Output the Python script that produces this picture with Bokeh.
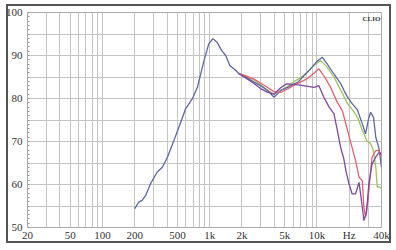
from bokeh.plotting import figure
from bokeh.models import FixedTicker, Label, InlineStyleSheet
from bokeh.embed import file_html
from bokeh.resources import INLINE

# ---- data ----
freq_0 = [200, 218, 234, 252, 281, 324, 362, 404, 463, 516, 596, 688, 768, 885, 980, 1070, 1170,
          1290, 1410, 1540, 1700, 1870, 2160, 2590, 2980, 3440, 3980, 4290, 4600, 5330, 6660, 7840,
          9000, 10000, 11200, 12400, 14400, 16700, 17850, 19300, 21300, 23800, 26500, 28400, 30500,
          31700, 33700, 35400, 38000, 40000]
spl_0 = [54.4, 55.9, 56.3, 57.4, 60.2, 62.9, 64.0, 66.4, 70.2, 73.3, 77.6, 79.9, 82.6, 88.8, 92.7,
         93.9, 93.1, 91.2, 90.0, 87.7, 86.8, 85.8, 85.0, 83.8, 83.0, 81.9, 80.3, 81.1, 81.9, 82.6,
         83.8, 85.7, 87.3, 88.6, 89.6, 88.1, 85.7, 83.4, 81.9, 80.3, 78.8, 77.4, 74.1, 71.8, 75.6,
         76.8, 75.6, 71.0, 68.3, 64.0]

freq_1 = [1870, 2160, 2590, 2980, 3440, 3980, 4600, 5330, 6000, 7000, 8000, 9000, 10000, 10850,
          12400, 14400, 16700, 19300, 22000, 24000, 26500, 29200, 31700, 33500, 35400, 36500,
          38000, 40000]
spl_1 = [85.8, 85.2, 84.3, 83.2, 82.0, 81.0, 81.8, 82.8, 83.8, 84.8, 85.9, 87.2, 88.3, 88.8,
         87.3, 85.0, 81.9, 78.8, 77.0, 75.5, 72.6, 70.2, 69.5, 68.0, 64.0, 59.4, 59.5, 59.0]

freq_2 = [1870, 2160, 2590, 2980, 3440, 3980, 4600, 5330, 6000, 7000, 8000, 9000, 10430, 11800,
          13400, 15490, 17230, 18600, 20800, 22900, 24700, 26500, 27400, 28400, 29900, 31700,
          32700, 35400, 37500, 40000]
spl_2 = [85.8, 85.3, 84.5, 83.6, 82.6, 81.6, 81.4, 82.2, 83.0, 83.8, 84.5, 85.5, 86.9, 85.0,
         82.6, 79.1, 77.2, 74.1, 69.5, 65.6, 61.7, 60.9, 54.7, 52.4, 56.3, 63.3, 66.4, 67.9,
         68.0, 66.5]

freq_3 = [1870, 2160, 2590, 2980, 3440, 3980, 4290, 4600, 5200, 6000, 7000, 8000, 9400, 10400,
          11600, 13000, 14400, 15500, 16600, 17800, 18600, 19900, 21300, 22900, 24700, 26500,
          27400, 29000, 30500, 32700, 35400, 38000, 40000]
spl_3 = [85.8, 84.8, 83.5, 82.3, 81.5, 81.0, 81.8, 82.5, 83.4, 83.3, 83.1, 82.9, 82.6, 83.0,
         80.3, 78.0, 76.5, 72.6, 68.7, 66.0, 63.3, 60.2, 57.8, 57.8, 60.5, 54.7, 51.6, 53.5,
         60.2, 64.8, 66.4, 67.5, 67.0]

x_ticks = [20, 50, 100, 200, 500, 1000, 2000, 5000, 10000, 20000, 40000]
x_tick_labels = ["20", "50", "100", "200", "500", "1k", "2k", "5k", "10k", "Hz", "40k"]
y_ticks = [50, 60, 70, 80, 90, 100]

series = [
    (freq_1, spl_1, "#9cc35c"),
    (freq_0, spl_0, "#5d67a3"),
    (freq_2, spl_2, "#e4606e"),
    (freq_3, spl_3, "#7d48a2"),
]

p = figure(width=396, height=250, x_axis_type="log", x_range=(20, 40000), y_range=(50, 100),
           output_backend="svg", toolbar_location=None,
           min_border_left=27, min_border_right=15, min_border_top=12, min_border_bottom=23)
p.background_fill_color = "white"
p.border_fill_color = "white"
p.outline_line_color = "#aaaaaa"

# grid
minor_x = []
for dec in [10, 100, 1000, 10000]:
    for m in range(1, 10):
        v = dec * m
        if 20 <= v <= 40000:
            minor_x.append(v)
p.xgrid.ticker = FixedTicker(ticks=minor_x)
p.ygrid.ticker = FixedTicker(ticks=list(range(50, 101, 5)))
p.xgrid.grid_line_color = "#c4c4c4"
p.ygrid.grid_line_color = "#c4c4c4"

font = "Liberation Sans Narrow"
p.xaxis.ticker = FixedTicker(ticks=x_ticks, minor_ticks=[])
p.xaxis.major_label_overrides = {t: l for t, l in zip(x_ticks, x_tick_labels)}
p.yaxis.ticker = FixedTicker(ticks=y_ticks, minor_ticks=list(range(50, 101)))
for ax in [p.xaxis, p.yaxis]:
    ax.axis_line_color = None
    ax.major_tick_line_color = None
    ax.major_tick_out = 0
    ax.major_tick_in = 0
    ax.minor_tick_out = 0
    ax.major_label_text_font = font
    ax.major_label_text_font_size = "11px"
    ax.major_label_text_color = "#333333"
p.yaxis.minor_tick_line_color = "#999999"
p.yaxis.minor_tick_in = 2
p.xaxis.minor_tick_line_color = None
p.xaxis.minor_tick_in = 0
p.yaxis.major_label_standoff = 5
p.xaxis.major_label_standoff = 1

for fx, fy, col in series:
    p.line(fx, fy, line_color=col, line_width=1.3)

p.add_layout(Label(x=39000, y=99.5, text="CLIO", text_align="right", text_baseline="top",
                   text_font="Liberation Serif", text_font_style="bold",
                   text_font_size="7px", text_color="#333333"))

# outer frame around the whole chart
p.stylesheets = [InlineStyleSheet(css=(
    ":host { position: relative; }"
    ":host::after { content: ''; position: absolute; left: 6px; top: 4px; width: 385px;"
    " height: 239px; border: 2px solid #555555; box-sizing: border-box;"
    " pointer-events: none; }"
))]

open("out.html", "w").write(file_html(p, INLINE))
